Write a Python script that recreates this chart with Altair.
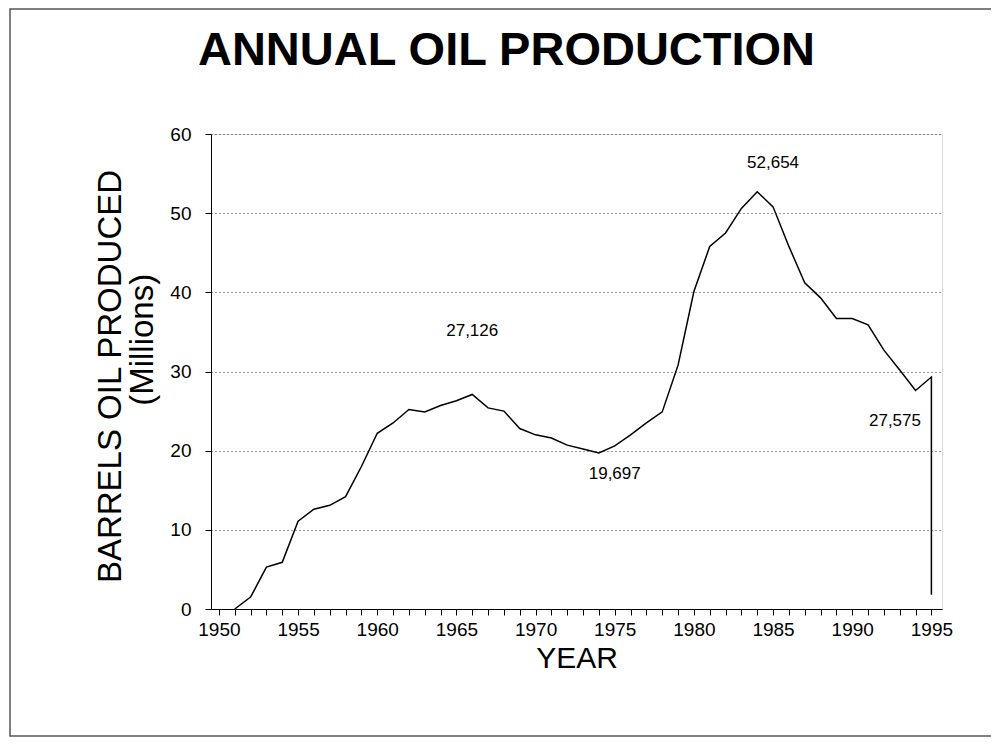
import altair as alt
import pandas as pd

FONT = "Liberation Sans"

# ---- data ----
years = list(range(1951, 1996))
production = [0.0, 1.5, 5.3, 5.9, 11.1, 12.6, 13.1, 14.2, 18.0, 22.2,
              23.5, 25.2, 24.9, 25.7, 26.3, 27.1, 25.4, 25.0, 22.8, 22.0,
              21.6, 20.7, 20.2, 19.7, 20.6, 22.0, 23.5, 24.9, 30.8, 40.1,
              45.8, 47.5, 50.6, 52.7, 50.8, 45.8, 41.2, 39.3, 36.7, 36.7,
              35.9, 32.7, 30.2, 27.6, 29.3]
# closing drop of the line at the right end
end_year = [1995]
end_value = [1.8]

ann_labels = ["27,126", "19,697", "52,654", "27,575"]
ann_year = [1966, 1975, 1985, 1992.7]
ann_value = [35.1, 17.0, 56.3, 23.7]

x_ticks = list(range(1950, 1996))
y_ticks = [0, 10, 20, 30, 40, 50, 60]

line_df = pd.DataFrame({
    "year": years + end_year,
    "value": production + end_value,
})
line_df["idx"] = range(len(line_df))

ann_df = pd.DataFrame({"year": ann_year, "value": ann_value, "label": ann_labels})

x_scale = alt.Scale(domain=[1949.5, 1995.67], nice=False, zero=False)
y_scale = alt.Scale(domain=[0, 60], nice=False)

x_axis = alt.Axis(
    values=x_ticks,
    labelExpr="datum.value % 5 === 0 ? '' + datum.value : ''",
    labelOverlap=False, labelFlush=False,
    labelFont=FONT, labelFontSize=19, labelColor="black", labelPadding=5,
    tickSize=6, tickColor="black", domainColor="black",
    grid=False,
    title="YEAR", titleFont=FONT, titleFontSize=30, titleFontWeight="normal",
    titleColor="black", titlePadding=4,
)

y_axis = alt.Axis(
    values=y_ticks,
    labelFont=FONT, labelFontSize=19, labelColor="black", labelPadding=14,
    tickSize=6, tickColor="black", domainColor="black",
    grid=True, gridColor="#333333", gridDash=[1, 3], gridWidth=1,
    title=["BARRELS OIL PRODUCED", "\u200b" + "\u00a0" * 8 + "(Millions)"],
    titleFont=FONT, titleFontSize=33, titleFontWeight="normal",
    titleColor="black", titleAngle=-90, titleAlign="center",
    titleBaseline="alphabetic", titleLineHeight=32,
    titleX=-91, titleY=242,
)

line = alt.Chart(line_df).mark_line(color="black", strokeWidth=1.5).encode(
    x=alt.X("year:Q", scale=x_scale, axis=x_axis),
    y=alt.Y("value:Q", scale=y_scale, axis=y_axis),
    order="idx:Q",
)

labels = alt.Chart(ann_df).mark_text(
    font=FONT, fontSize=17, color="black", align="center", baseline="middle"
).encode(
    x=alt.X("year:Q", scale=x_scale, axis=x_axis),
    y=alt.Y("value:Q", scale=y_scale, axis=y_axis),
    text="label:N",
)

# outer page frame (decoration)
frame_src = alt.Data(values=[{"k": 1}])
frame = alt.Chart(frame_src).mark_rect(
    fill=None, filled=False, stroke="#555555", strokeWidth=1.5
).encode(
    x=alt.value(-201), x2=alt.value(820), y=alt.value(-125), y2=alt.value(602)
)

chart = alt.layer(line, labels, frame).properties(
    width=731,
    height=475,
    autosize=alt.AutoSizeParams(type="none"),
    padding={"left": 203, "top": 126, "right": 49, "bottom": 129},
    title=alt.TitleParams(
        text="ANNUAL OIL PRODUCTION", font=FONT, fontSize=47, fontWeight="bold",
        color="black", anchor="middle", frame="group", dx=-70, offset=-104,
        baseline="alphabetic",
    ),
).configure_view(stroke="black", strokeWidth=1.2).configure(background="white")

chart.save("out.html", embed_options={"renderer": "svg", "actions": False})
